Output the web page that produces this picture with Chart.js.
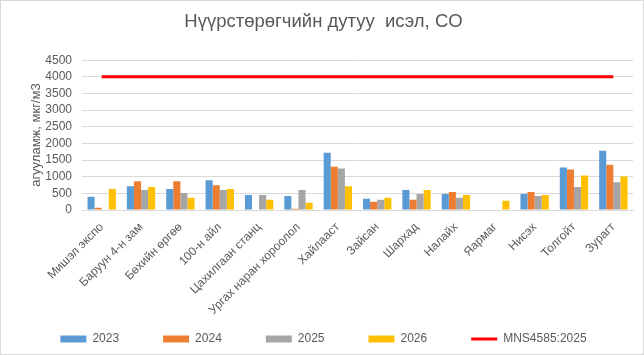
<!DOCTYPE html>
<html>
<head>
<meta charset="utf-8">
<script src="https://cdn.jsdelivr.net/npm/chart.js@4.4.1/dist/chart.umd.min.js"></script>
<style>
  html, body { margin: 0; padding: 0; background: #ffffff; }
  #wrap { position: relative; width: 644px; height: 355px; }
</style>
</head>
<body>
<div id="wrap"><canvas id="c" width="644" height="355"></canvas></div>
<script>
const categories = ["Мишэл экспо", "Баруун 4-н зам", "Бөхийн өргөө", "100-н айл", "Цахилгаан станц", "Ургах наран хороолол", "Хайлааст", "Зайсан", "Шархад", "Налайх", "Яармаг", "Нисэх", "Толгойт", "Зурагт"];
const series2023 = [400, 715, 630, 890, 450, 420, 1720, 335, 600, 480, null, 480, 1280, 1780];
const series2024 = [70, 860, 860, 745, null, 40, 1300, 245, 305, 540, null, 540, 1220, 1360];
const series2025 = [null, 600, 510, 600, 450, 600, 1250, 305, 480, 365, null, 420, 690, 835];
const series2026 = [630, 690, 365, 630, 305, 215, 715, 365, 600, 450, 275, 450, 1040, 1010];
const standardValue = 4000;
const standardSeries = categories.map(() => standardValue);
const seriesLabels = ["2023", "2024", "2025", "2026", "MNS4585:2025"];
const yTicks = [0, 500, 1000, 1500, 2000, 2500, 3000, 3500, 4000, 4500];

const FONT = "'Liberation Sans', Arial, sans-serif";
const TXT = "#595959";

const borderPlugin = {
  id: 'outerBorder',
  afterDraw(chart) {
    const ctx = chart.ctx;
    ctx.save();
    ctx.strokeStyle = '#d9d9d9';
    ctx.lineWidth = 1;
    ctx.strokeRect(0.5, 0.5, chart.width - 1, chart.height - 1);
    ctx.restore();
  }
};

new Chart(document.getElementById('c'), {
  type: 'bar',
  data: {
    labels: categories,
    datasets: [
      { label: seriesLabels[0], data: series2023, backgroundColor: '#5B9BD5', borderWidth: 0, pointStyle: 'rect' },
      { label: seriesLabels[1], data: series2024, backgroundColor: '#ED7D31', borderWidth: 0, pointStyle: 'rect' },
      { label: seriesLabels[2], data: series2025, backgroundColor: '#A5A5A5', borderWidth: 0, pointStyle: 'rect' },
      { label: seriesLabels[3], data: series2026, backgroundColor: '#FFC000', borderWidth: 0, pointStyle: 'rect' },
      { type: 'line', label: seriesLabels[4], data: standardSeries, borderColor: '#FF0000', backgroundColor: '#FF0000', borderWidth: 3, pointRadius: 0, pointStyle: 'line', fill: false }
    ]
  },
  options: {
    responsive: false,
    animation: false,
    devicePixelRatio: 1,
    categoryPercentage: 0.72,
    barPercentage: 1.0,
    layout: { padding: { left: 14, right: 11, top: 0, bottom: 0 } },
    plugins: {
      title: {
        display: true,
        text: 'Нүүрстөрөгчийн дутуу  исэл, CO',
        color: TXT,
        font: { family: FONT, size: 18.5, weight: 'normal' },
        padding: { top: 11, bottom: 27 }
      },
      legend: {
        display: true,
        position: 'bottom',
        labels: {
          color: TXT,
          font: { family: FONT, size: 12 },
          usePointStyle: true,
          pointStyleWidth: 26,
          boxHeight: 7,
          padding: 44
        }
      },
      tooltip: { enabled: false }
    },
    scales: {
      x: {
        grid: { display: false },
        border: { display: true, color: '#d9d9d9', width: 1 },
        ticks: {
          color: TXT,
          font: { family: FONT, size: 12 },
          maxRotation: 45,
          minRotation: 45,
          autoSkip: false,
          padding: 2
        },
        afterFit(scale) {
          scale.height = 79;
          scale._computeLabelArea = () => undefined;
        }
      },
      y: {
        min: 0,
        max: 4500,
        afterBuildTicks(scale) { scale.ticks = yTicks.map(v => ({ value: v })); },
        grid: { color: '#d9d9d9', lineWidth: 1, drawTicks: false },
        border: { display: false },
        ticks: {
          color: TXT,
          font: { family: FONT, size: 12 },
          padding: 10,
          autoSkip: false,
          callback: (v) => String(v)
        },
        title: {
          display: true,
          text: 'агууламж, мкг/м3',
          color: TXT,
          font: { family: FONT, size: 13 },
          padding: { top: 15, bottom: 0 }
        },
        afterFit(scale) { scale.width = 68; }
      }
    }
  },
  plugins: [borderPlugin]
});
</script>
</body>
</html>
